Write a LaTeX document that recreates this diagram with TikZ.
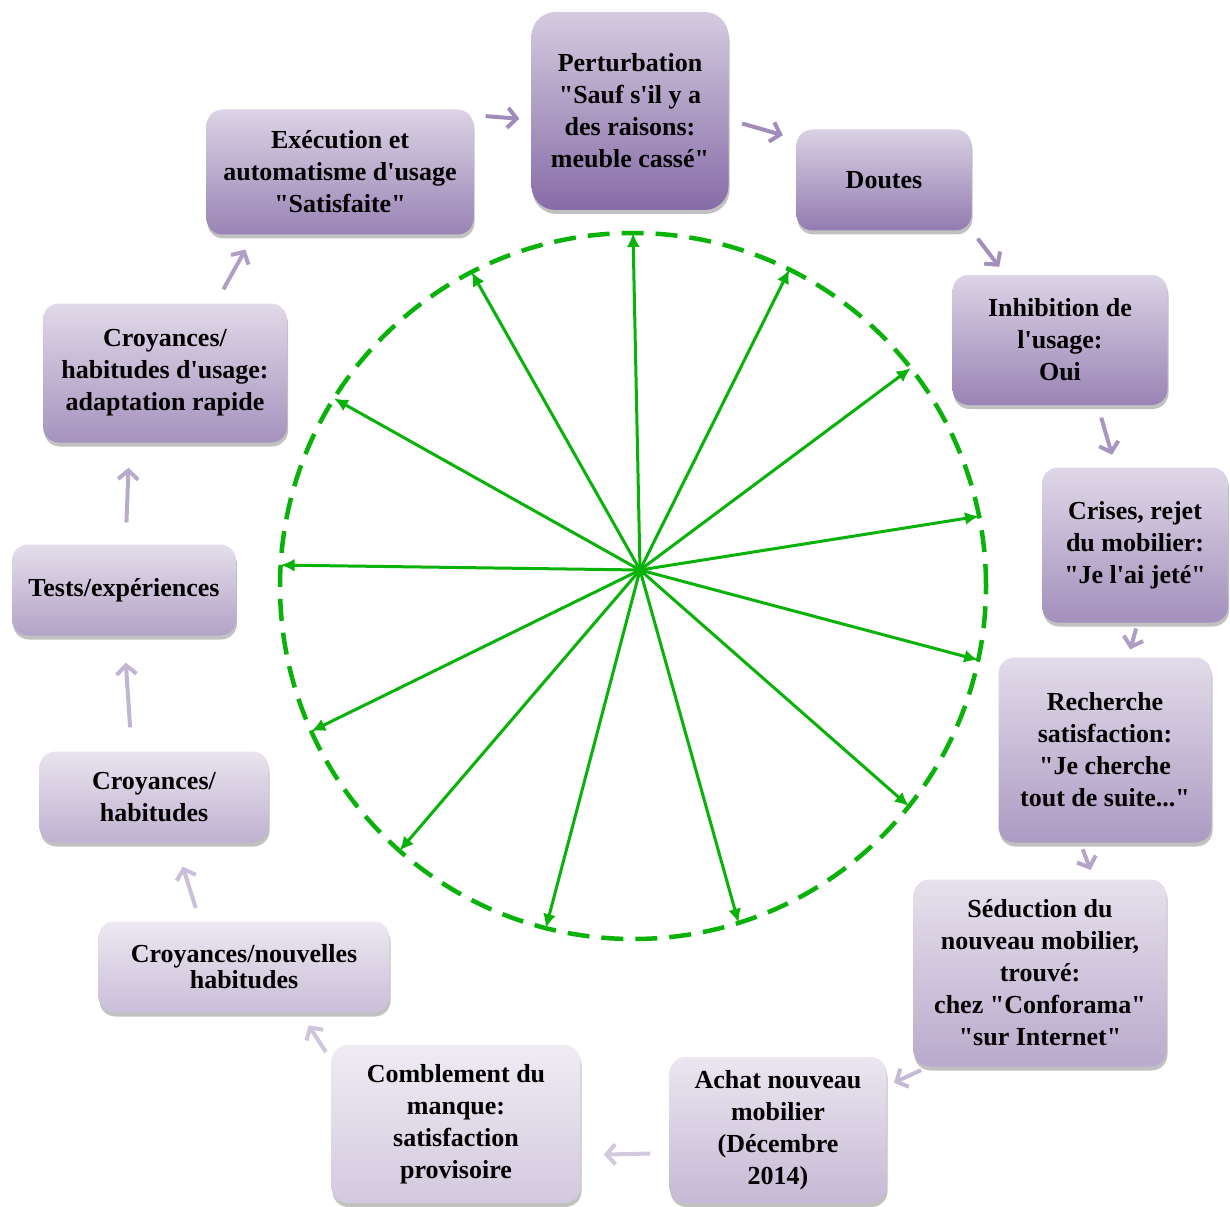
\documentclass[tikz,border=0pt]{standalone}
\usepackage{fontspec}
\setmainfont{Liberation Serif}[Ligatures=TeXOff]
\usepackage{xcolor}
\usepackage{tikz}
\usetikzlibrary{positioning,arrows.meta,shadows}

\definecolor{boxPurple}{RGB}{128,100,162}
\definecolor{spokeGreen}{RGB}{8,178,8}

\begin{document}
\begin{tikzpicture}[
  x=1pt, y=1pt,
  cycleBox/.style={rectangle, rounded corners=16pt, align=center,
                   font=\fontsize{26}{32}\selectfont\bfseries, inner sep=4pt,
                   top color=boxPurple!#1!white!35, bottom color=boxPurple!#1,
                   drop shadow={shadow xshift=1pt, shadow yshift=-4pt,
                                opacity=.35, fill=black!70}},
  flowArrow/.style={draw=boxPurple!#1, line width=4pt,
                    -{Straight Barb[length=9pt,width=20pt]}},
  spokeArrow/.style={draw=spokeGreen, line width=3pt,
                     -{Latex[length=14pt,width=13pt]}}
]
  \useasboundingbox (0,0) rectangle (1230,-1206);

  % dashed ring and spokes
  \coordinate (ring) at (633,-586);
  \coordinate (hub) at (640,-570);
  \draw[spokeGreen, line width=4.5pt, dash pattern=on 22pt off 12pt]
    (ring) circle[radius=353];
  \foreach \a [count=\i] in {90,63.7,38.1,11.4,-12.1,-38.6,-72.6,-104.3,
                             -131.4,-155.7,176.6,147.9,117.2} {
    \coordinate (tip\i) at ([shift={(\a:353)}]ring);
    \draw[spokeArrow] (hub) -- (tip\i);
  }

  % the cycle
  \node[cycleBox=95, minimum width=197, minimum height=198, rounded corners=24pt]
    (pert) at (630,-111) {Perturbation\\"Sauf s'il y a\\des raisons:\\meuble cassé"};
  \node[cycleBox=85, minimum width=175, minimum height=101]
    (doutes) at (884,-180) {Doutes};
  \node[cycleBox=80, minimum width=215, minimum height=130]
    (inhib) at (1060,-340) {Inhibition de\\l'usage:\\Oui};
  \node[cycleBox=72, minimum width=186, minimum height=155]
    (crises) at (1135,-545) {Crises, rejet\\du mobilier:\\"Je l'ai jeté"};
  \node[cycleBox=65, minimum width=213, minimum height=185]
    (rech) at (1105,-750) {Recherche\\satisfaction:\\"Je cherche\\tout de suite..."};
  \node[cycleBox=55, minimum width=253, minimum height=187]
    (seduc) at (1040,-973) {Séduction du\\nouveau mobilier,\\trouvé:\\chez "Conforama"\\"sur Internet"};
  \node[cycleBox=45, minimum width=217, minimum height=146]
    (achat) at (778,-1130) {Achat nouveau\\mobilier\\(Décembre\\2014)};
  \node[cycleBox=35, minimum width=249, minimum height=158]
    (combl) at (456,-1124) {Comblement du\\manque:\\satisfaction\\provisoire};
  \node[cycleBox=42, minimum width=291, minimum height=91]
    (nouv) at (244,-967) {Croyances/nouvelles\\[-6pt]habitudes};
  \node[cycleBox=50, minimum width=229, minimum height=91]
    (habit) at (154,-797) {Croyances/\\habitudes};
  \node[cycleBox=60, minimum width=224, minimum height=91]
    (tests) at (124,-590) {Tests/expériences};
  \node[cycleBox=70, minimum width=244, minimum height=139]
    (usage) at (165,-373) {Croyances/\\habitudes d'usage:\\adaptation rapide};
  \node[cycleBox=80, minimum width=267, minimum height=125]
    (exec) at (340,-172) {Exécution et\\automatisme d'usage\\"Satisfaite"};

  % arrows between the steps
  \draw[flowArrow=75, shorten <=12pt, shorten >=12pt] (exec.23) -- (pert.185);
  \draw[flowArrow=75, shorten <=14pt, shorten >=14pt] (pert.-5) -- (doutes.155);
  \draw[flowArrow=72, shorten <=10pt, shorten >=10pt] (doutes.south east) -- (inhib.130);
  \draw[flowArrow=68, shorten <=13pt, shorten >=13pt] (inhib.-60) -- (crises.104);
  \draw[flowArrow=62, shorten <=6pt, shorten >=8pt] (crises.-88) -- (rech.76);
  \draw[flowArrow=58, shorten <=7pt, shorten >=10pt] (rech.-105) -- (seduc.60);
  \draw[flowArrow=45, shorten <=8pt, shorten >=8pt] (seduc.220) -- (achat.22);
  \draw[flowArrow=35, shorten <=19pt, shorten >=23pt] (achat.192) -- (combl.-14);
  \draw[flowArrow=38, shorten <=10pt, shorten >=15pt] (combl.153) -- (nouv.-39);
  \draw[flowArrow=42, shorten <=14pt, shorten >=25pt] (nouv.134) -- (habit.-65);
  \draw[flowArrow=48, shorten <=24pt, shorten >=27pt] (habit.116) -- (tests.south);
  \draw[flowArrow=55, shorten <=22pt, shorten >=25pt] (tests.88) -- (usage.-117);
  \draw[flowArrow=62, shorten <=16pt, shorten >=17pt] (usage.54) -- (exec.-144);
\end{tikzpicture}
\end{document}
